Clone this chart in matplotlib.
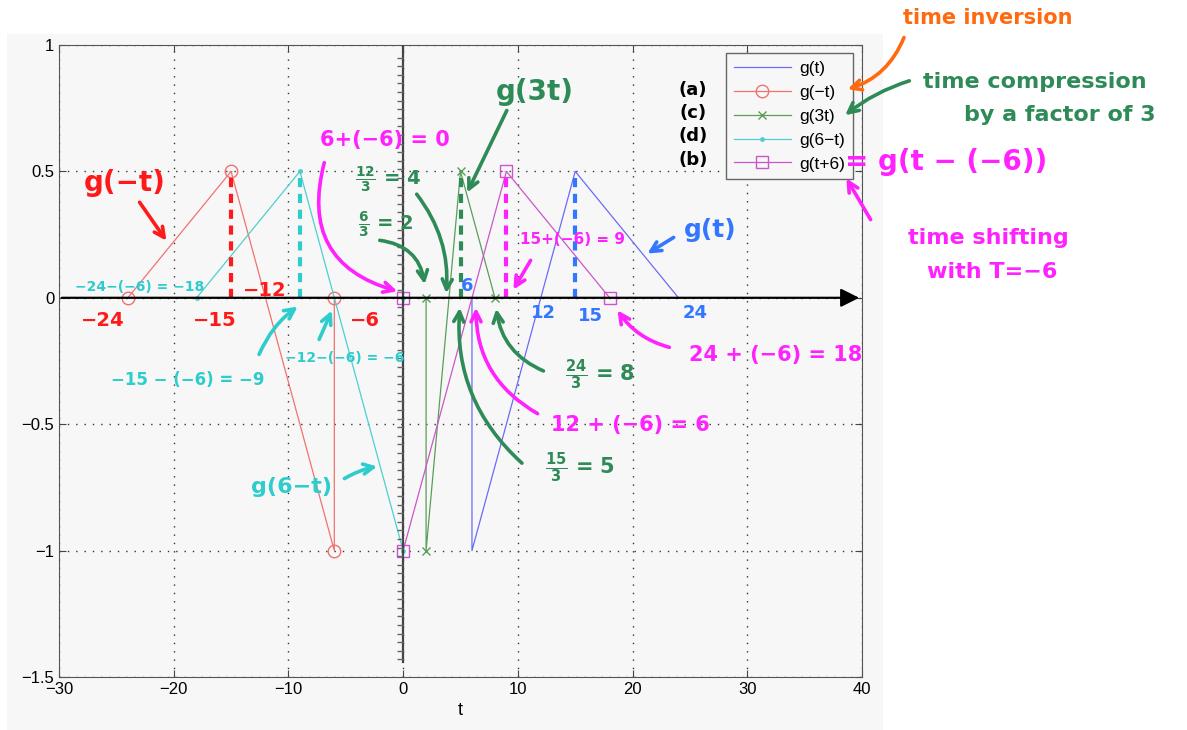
import numpy as np
import matplotlib
matplotlib.use("Agg")
import matplotlib.pyplot as plt
from matplotlib.patches import Rectangle

###############################################################################
# data: g(t) and its transformed versions (breakpoints)
###############################################################################

t_g = [6, 6, 15, 24]
y_g = [0, -1, 0.5, 0]

t_gneg = [-24, -15, -6, -6]
y_gneg = [0, 0.5, -1, 0]

t_g3 = [2, 2, 5, 8]
y_g3 = [0, -1, 0.5, 0]

t_g6m = [-18, -9, 0, 0]
y_g6m = [0, 0.5, -1, 0]

t_gp6 = [0, 0, 9, 18]
y_gp6 = [0, -1, 0.5, 0]

labels = ["g(t)", "g(\u2212t)", "g(3t)", "g(6\u2212t)", "g(t+6)"]

x_ticks = [-30, -20, -10, 0, 10, 20, 30, 40]
y_ticks = [-1.5, -1, -0.5, 0, 0.5, 1]

###############################################################################

plt.rcParams["font.family"] = ["Liberation Sans", "DejaVu Sans"]

W, H = 1187, 730
fig = plt.figure(figsize=(W / 100, H / 100), dpi=100)
fig.patch.set_facecolor("white")
bg = "#f7f7f7"
fig.patches.append(Rectangle((7 / W, 0), (883 - 7) / W, (730 - 34) / H,
                             transform=fig.transFigure, facecolor=bg,
                             edgecolor="none", zorder=-10))

ax = fig.add_axes([59 / W, 1 - 677 / H, (862 - 59) / W, (677 - 45) / H])
ax.set_facecolor(bg)

# the five curves
ax.plot(t_g, y_g, color="#6b6bf5", lw=0.9, label=labels[0])
ax.plot(t_gneg, y_gneg, color="#f07272", lw=0.9, marker="o", ms=9,
        mfc="none", mew=1, label=labels[1])
ax.plot(t_g3, y_g3, color="#5a9e5a", lw=0.9, marker="x", ms=6,
        mew=1, label=labels[2])
ax.plot(t_g6m, y_g6m, color="#4fcfcf", lw=0.9, marker=".", ms=5,
        label=labels[3])
ax.plot(t_gp6, y_gp6, color="#cc55cc", lw=0.9, marker="s", ms=8,
        mfc="none", mew=1, label=labels[4])

ax.set_xlim(-30, 40)
ax.set_ylim(-1.5, 1)
ax.set_xticks(x_ticks)
ax.set_yticks(y_ticks)
ax.set_xticklabels([str(v).replace("-", "\u2212") for v in x_ticks])
ax.set_yticklabels(["\u22121.5", "\u22121", "\u22120.5", "0", "0.5", "1"])
ax.tick_params(direction="in", top=True, right=True, length=5,
               labelsize=12, color="#444")
ax.grid(True, linestyle=(0, (1, 5)), color="#333", lw=1)
for s in ax.spines.values():
    s.set_color("#555")
ax.set_xlabel("t", fontsize=13)

leg = ax.legend(loc="upper right", bbox_to_anchor=(0.989, 0.987),
                borderaxespad=0, fancybox=False, edgecolor="#666",
                facecolor=bg, framealpha=1, fontsize=12.5, handlelength=3.3,
                handletextpad=0.5, borderpad=0.45, labelspacing=0.5)
leg.get_frame().set_linewidth(1)

# hand drawn axes through the origin
ax.annotate("", xy=(40, 0), xytext=(-30, 0),
            arrowprops=dict(arrowstyle="-|>", color="black", lw=1.6,
                            mutation_scale=28), zorder=5)
ax.plot([0, 0], [1, -1.44], color="#444", lw=1.6, zorder=4)
yy = np.arange(0.95, -1.44, -0.034)
ax.plot(np.zeros(len(yy)), yy, ls="none", marker=0, ms=4, color="#666",
        zorder=4)

# dashed guides from the peaks
peaks = [(t_gneg, y_gneg, "#ff1a1a"), (t_g6m, y_g6m, "#2ecccc"),
         (t_g3, y_g3, "#2e8b57"), (t_gp6, y_gp6, "#ff22ff"),
         (t_g, y_g, "#3377ff")]
for tt, vv, c in peaks:
    k = int(np.argmax(vv))
    ax.plot([tt[k], tt[k]], [0, vv[k]], color=c, lw=3,
            ls=(0, (2.2, 1.6)), zorder=3)

###############################################################################
# handwritten notes (pixel positions of the reference image)
###############################################################################

RED = "#ff1a1a"
CYAN = "#2ecccc"
MAG = "#ff22ff"
GRN = "#2e8b57"
BLUE = "#3377ff"
ORG = "#ff6a10"


def P(x, y):
    return (x / W, 1 - y / H)


def note(x, y, s, c, size):
    fig.text(*P(x, y), s, color=c, fontsize=size, fontweight="bold",
             family=["DejaVu Sans"], ha="center", va="center")


def arrow(x0, y0, x1, y1, c, rad=0.0):
    ax.annotate("", xy=P(x1, y1), xytext=P(x0, y0),
                xycoords="figure fraction", textcoords="figure fraction",
                arrowprops=dict(arrowstyle="->", color=c, lw=2.6,
                                mutation_scale=18,
                                connectionstyle="arc3,rad=%g" % rad),
                annotation_clip=False, zorder=6)


note(988, 18, "time inversion", ORG, 15)
arrow(905, 35, 845, 90, ORG, -0.25)
note(1035, 82, "time compression", GRN, 16)
note(1060, 115, "by a factor of 3", GRN, 16)
arrow(912, 80, 843, 117, GRN, 0.1)
for yv, s in zip([90, 113, 136, 160], ["(a)", "(c)", "(d)", "(b)"]):
    note(693, yv, s, "black", 13)
note(946, 162, "= g(t \u2212 (\u22126))", MAG, 20)
arrow(872, 222, 845, 176, MAG, 0.0)
note(988, 238, "time shifting", MAG, 16)
note(992, 272, "with T=\u22126", MAG, 16)

note(710, 230, "g(t)", BLUE, 18)
arrow(676, 236, 645, 255, BLUE, 0.0)
note(125, 183, "g(\u2212t)", RED, 20)
arrow(138, 200, 168, 243, RED, 0.0)

note(103, 320, "\u221224", RED, 14)
note(215, 320, "\u221215", RED, 14)
note(265, 290, "\u221212", RED, 14)
note(365, 320, "\u22126", RED, 14)

note(140, 287, "\u221224\u2212(\u22126) = \u221218", CYAN, 10)
note(188, 380, "\u221215 \u2212 (\u22126) = \u22129", CYAN, 12)
arrow(258, 357, 300, 305, CYAN, -0.15)
note(345, 358, "\u221212\u2212(\u22126) = \u22126", CYAN, 10)
arrow(318, 342, 333, 308, CYAN, 0.0)
note(292, 487, "g(6\u2212t)", CYAN, 16)
arrow(342, 480, 380, 466, CYAN, -0.1)

note(385, 140, "6+(\u22126) = 0", MAG, 15)
arrow(325, 160, 400, 292, MAG, 0.5)
note(388, 180, r"$\mathbf{\frac{12}{3}}$ = 4", GRN, 14)
arrow(415, 192, 446, 296, GRN, -0.2)
note(386, 225, r"$\mathbf{\frac{6}{3}}$ = 2", GRN, 14)
arrow(377, 240, 425, 287, GRN, -0.4)
note(535, 92, "g(3t)", GRN, 20)
arrow(508, 108, 466, 195, GRN, 0.0)
note(572, 240, "15+(\u22126) = 9", MAG, 11)
arrow(532, 258, 512, 292, MAG, 0.0)

note(467, 286, "6", BLUE, 13)
note(543, 313, "12", BLUE, 13)
note(590, 316, "15", BLUE, 13)
note(695, 313, "24", BLUE, 13)

note(776, 355, "24 + (\u22126) = 18", MAG, 15)
arrow(672, 348, 616, 308, MAG, -0.2)
note(600, 375, r"$\mathbf{\frac{24}{3}}$ = 8", GRN, 15)
arrow(546, 372, 496, 306, GRN, -0.3)
note(630, 425, "12 + (\u22126) = 6", MAG, 15)
arrow(540, 415, 476, 305, MAG, -0.3)
note(580, 468, r"$\mathbf{\frac{15}{3}}$ = 5", GRN, 15)
arrow(524, 465, 460, 305, GRN, -0.25)

fig.savefig("out.png", dpi=100)
